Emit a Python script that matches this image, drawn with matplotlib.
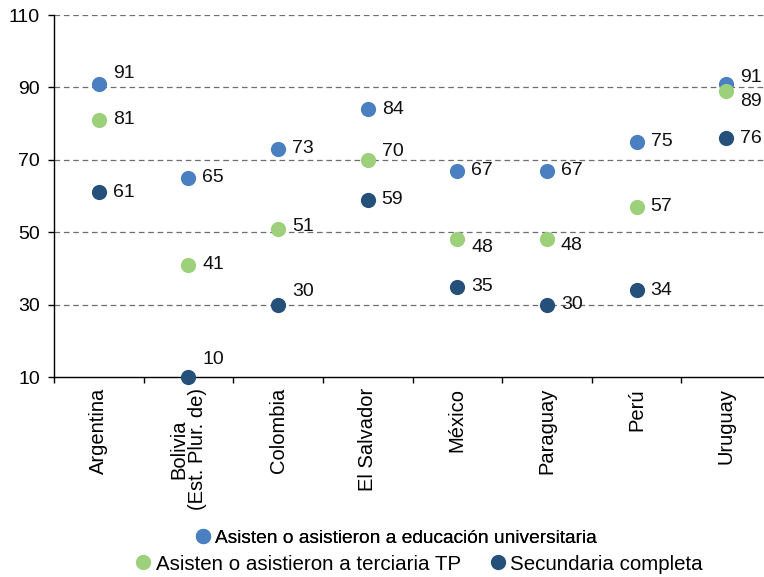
import matplotlib
matplotlib.use('Agg')
import matplotlib.pyplot as plt
from matplotlib.lines import Line2D
import numpy as np

plt.rcParams['font.family'] = ['Liberation Sans', 'DejaVu Sans']

paises = ['Argentina', 'Bolivia\n(Est. Plur. de)', 'Colombia', 'El Salvador',
          'México', 'Paraguay', 'Perú', 'Uruguay']
universitaria = [91, 65, 73, 84, 67, 67, 75, 91]
terciaria_tp = [81, 41, 51, 70, 48, 48, 57, 89]
secundaria = [61, 10, 30, 59, 35, 30, 34, 76]

series = [
    ('Asisten o asistieron a educación universitaria', universitaria, '#4a7fc1'),
    ('Asisten o asistieron a terciaria TP', terciaria_tp, '#9dd07a'),
    ('Secundaria completa', secundaria, '#25507a'),
]

# vertical label offsets in pixels (positive = up), per series/country
dy = [
    [10, 0, 0, 0, 0, 0, 0, 6],
    [0, 0, 2, 8, -8, -6, 0, -10],
    [0, 17, 13, 0, 0, 0, 0, 0],
]

fig = plt.figure(figsize=(7.64, 5.77), dpi=100)
W, H = 764, 577
ax = fig.add_axes([54 / W, 200 / H, 717 / W, 362 / H])

x = np.arange(len(paises))
for k, (nombre, vals, col) in enumerate(series):
    ax.scatter(x, vals, s=120, color=col, zorder=3, linewidths=0, clip_on=False)
    for i, v in enumerate(vals):
        ax.annotate(str(v), (x[i], v), xytext=(14, dy[k][i]), textcoords='offset pixels',
                    ha='left', va='center', fontsize=14, color='#111111')

ax.set_xlim(-0.5, len(paises) - 0.5)
ax.set_ylim(10, 110)
ax.set_yticks([10, 30, 50, 70, 90, 110])
for yv in [30, 50, 70, 90, 110]:
    ax.axhline(yv, color='#6e6e6e', lw=0.9, ls=(0, (4.5, 3)), zorder=1)

ax.set_xticks(np.arange(len(paises) + 1) - 0.5)
ax.set_xticklabels([])
ax.set_xticks(x, minor=True)
ax.set_xticklabels(paises, minor=True, rotation=90, fontsize=14.5, va='top', ha='center',
                   linespacing=1.0)
ax.tick_params(axis='x', which='minor', length=0, pad=8)
ax.tick_params(axis='x', which='major', length=4.5, width=1, direction='out')
ax.tick_params(axis='y', length=4.5, width=1, labelsize=14, pad=5.5)

for s in ['top', 'right']:
    ax.spines[s].set_visible(False)
for s in ['left', 'bottom']:
    ax.spines[s].set_color('black')
    ax.spines[s].set_linewidth(1)

def handle(col):
    return Line2D([], [], marker='o', ls='', markersize=11, markerfacecolor=col,
                  markeredgewidth=0)

leg1 = fig.legend([handle(series[0][2])], [series[0][0]], loc='center',
                  bbox_to_anchor=(396 / W, 1 - 538 / H), frameon=False, fontsize=13.8,
                  handletextpad=0.2, handlelength=0.8)
leg2 = fig.legend([handle(series[1][2]), handle(series[2][2])],
                  [series[1][0], series[2][0]], loc='center', ncol=2,
                  bbox_to_anchor=(419 / W, 1 - 564 / H), frameon=False, fontsize=14.8,
                  handletextpad=0.2, handlelength=0.8, columnspacing=1.4)
fig.add_artist(leg1)

fig.savefig('out.png', dpi=100)
